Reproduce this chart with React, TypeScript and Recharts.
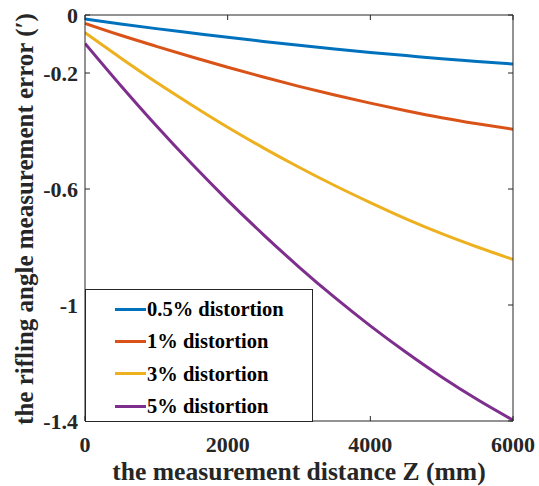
import { LineChart, Line, XAxis, YAxis, Legend, Label } from "recharts";

const FONT = '"Liberation Serif", "Times New Roman", serif';
const AXIS = "#262626";

// measurement distance Z (mm)
const distance = [0, 500, 1000, 1500, 2000, 2500, 3000, 3500, 4000, 4500, 5000, 5500, 6000];

// rifling angle measurement error (′) for each distortion level
const err05 = [-0.014, -0.031, -0.047, -0.062, -0.077, -0.091, -0.104, -0.117, -0.129, -0.140, -0.151, -0.160, -0.169];
const err1 = [-0.029, -0.070, -0.108, -0.145, -0.180, -0.214, -0.246, -0.276, -0.304, -0.330, -0.354, -0.375, -0.394];
const err3 = [-0.061, -0.148, -0.232, -0.311, -0.387, -0.458, -0.525, -0.588, -0.647, -0.703, -0.754, -0.800, -0.843];
const err5 = [-0.098, -0.243, -0.382, -0.514, -0.639, -0.757, -0.869, -0.974, -1.072, -1.163, -1.248, -1.326, -1.397];

const xTicks = [0, 2000, 4000, 6000];
const yTicks = [0, -0.2, -0.6, -1, -1.4];

const seriesKeys = ["e05", "e1", "e3", "e5"];
const seriesNames = ["0.5% distortion", "1% distortion", "3% distortion", "5% distortion"];
const seriesColors = ["#0072BD", "#D95319", "#EDB120", "#7E2F8E"];

const data = distance.map((z, i) => ({
  z,
  e05: err05[i],
  e1: err1[i],
  e3: err3[i],
  e5: err5[i],
}));

const tickStyle = { fontFamily: FONT, fontSize: 22, fontWeight: 700, fill: AXIS };

const noTick = () => <g />;

function XTitle(props: any) {
  const vb = props.viewBox || { x: 85, y: 421, width: 428, height: 65 };
  return (
    <text
      x={vb.x + vb.width / 2}
      y={480}
      textAnchor="middle"
      fontFamily={FONT}
      fontSize={25.6}
      fontWeight={700}
      fill={AXIS}
    >
      the measurement distance Z (mm)
    </text>
  );
}

function YTitle(props: any) {
  const vb = props.viewBox || { x: 0, y: 15, width: 85, height: 406 };
  const cx = 33;
  const cy = vb.y + vb.height / 2 + 1;
  return (
    <text
      x={cx}
      y={cy}
      transform={`rotate(-90, ${cx}, ${cy})`}
      textAnchor="middle"
      fontFamily={FONT}
      fontSize={25}
      fontWeight={700}
      fill={AXIS}
    >
      the rifling angle measurement error (′)
    </text>
  );
}

function LegendBox() {
  return (
    <div
      style={{
        width: 228,
        height: 133,
        border: `1px solid ${AXIS}`,
        background: "#fff",
        boxSizing: "border-box",
        position: "relative",
      }}
    >
      {seriesNames.map((name, i) => (
        <div
          key={name}
          style={{
            position: "absolute",
            left: 29,
            top: 19 + i * 32.4 - 13,
            height: 26,
            display: "flex",
            alignItems: "center",
            whiteSpace: "nowrap",
          }}
        >
          <span style={{ display: "inline-block", width: 31, height: 3, background: seriesColors[i] }} />
          <span
            style={{
              marginLeft: 1,
              fontFamily: FONT,
              fontSize: 20.5,
              fontWeight: 700,
              color: "#000",
              lineHeight: "26px",
            }}
          >
            {name}
          </span>
        </div>
      ))}
    </div>
  );
}

export default function App() {
  return (
    <div style={{ position: "absolute", left: 0, top: 0, background: "#fff" }}>
      <LineChart width={539} height={486} data={data} margin={{ top: 14, right: 25, bottom: 0, left: 0 }}>
        <XAxis
          xAxisId="b"
          dataKey="z"
          type="number"
          domain={[0, 6000]}
          ticks={xTicks}
          allowDataOverflow
          height={65}
          stroke={AXIS}
          tickSize={-5}
          tickMargin={20}
          tick={tickStyle}
        >
          <Label content={XTitle} />
        </XAxis>
        <XAxis
          xAxisId="t"
          orientation="top"
          dataKey="z"
          type="number"
          domain={[0, 6000]}
          ticks={xTicks}
          allowDataOverflow
          height={1}
          stroke={AXIS}
          tickSize={-5}
          tick={noTick}
        />
        <YAxis
          yAxisId="l"
          type="number"
          domain={[-1.4, 0]}
          ticks={yTicks}
          allowDataOverflow
          width={85}
          stroke={AXIS}
          tickSize={-5}
          tickMargin={12}
          tick={tickStyle}
        >
          <Label content={YTitle} />
        </YAxis>
        <YAxis
          yAxisId="r"
          orientation="right"
          type="number"
          domain={[-1.4, 0]}
          ticks={yTicks}
          allowDataOverflow
          width={1}
          stroke={AXIS}
          tickSize={-5}
          tick={noTick}
        />
        {seriesKeys.map((k, i) => (
          <Line
            key={k}
            xAxisId="b"
            yAxisId="l"
            dataKey={k}
            name={seriesNames[i]}
            type="monotone"
            stroke={seriesColors[i]}
            strokeWidth={3}
            dot={false}
            isAnimationActive={false}
          />
        ))}
        <Legend
          layout="vertical"
          align="center"
          verticalAlign="middle"
          content={() => <LegendBox />}
          wrapperStyle={{ position: "absolute", left: 85, top: 289, width: 228, height: 133 }}
        />
      </LineChart>
    </div>
  );
}
